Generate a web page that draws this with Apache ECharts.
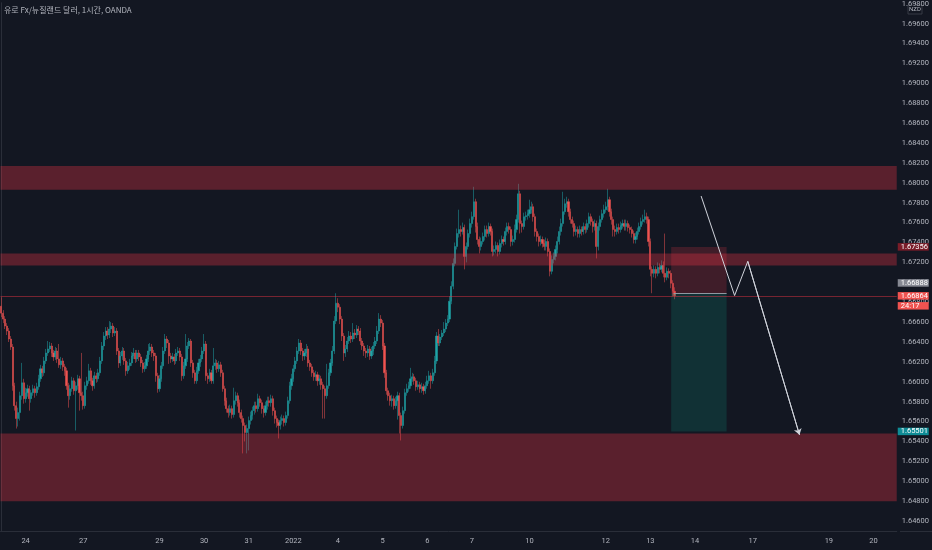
<!DOCTYPE html>
<html><head><meta charset="utf-8">
<script src="https://cdn.jsdelivr.net/npm/echarts@6/dist/echarts.min.js"></script>
<style>html,body{margin:0;padding:0;background:#131722;overflow:hidden}#c{width:932px;height:550px}</style>
</head><body><div id="c"></div><script>
const chartTitle = '유로 Fx/뉴질랜드 달러, 1시간, OANDA';
const currencyTag = 'NZD';
const firstOpen = 1.6676;
const closes = [
1.6669,1.6663,1.6656,1.6651,1.6643,1.6635,1.6596,1.6576,1.6563,1.6569,
1.6586,1.6599,1.6583,1.6589,1.6593,1.6583,1.6589,1.6593,1.6589,1.6595,
1.6603,1.6613,1.6609,1.6621,1.6629,1.6633,1.6636,1.6629,1.6625,1.6631,
1.6623,1.6617,1.6621,1.6615,1.6611,1.6596,1.6586,1.6593,1.6601,1.6591,
1.6596,1.6603,1.6589,1.6586,1.6576,1.6596,1.6601,1.6611,1.6601,1.6596,
1.6606,1.6603,1.6609,1.6621,1.6636,1.6646,1.6651,1.6647,1.6653,1.6656,
1.6649,1.6651,1.6631,1.6619,1.6626,1.6631,1.6621,1.6611,1.6616,1.6619,
1.6626,1.6629,1.6623,1.6629,1.6625,1.6619,1.6613,1.6616,1.6623,1.6631,
1.6635,1.6629,1.6626,1.6606,1.6593,1.6603,1.6616,1.6631,1.6643,1.6639,
1.6626,1.6623,1.6625,1.6621,1.6629,1.6631,1.6625,1.6606,1.6616,1.6623,
1.6636,1.6641,1.6619,1.6609,1.6601,1.6611,1.6619,1.6623,1.6631,1.6638,
1.6606,1.6603,1.6609,1.6601,1.6616,1.6619,1.6613,1.6617,1.6609,1.6593,
1.6581,1.6573,1.6569,1.6573,1.6567,1.6581,1.6586,1.6579,1.6569,1.6563,
1.6556,1.6549,1.6553,1.6561,1.6566,1.6571,1.6576,1.6573,1.6583,1.6579,
1.6573,1.6569,1.6576,1.6581,1.6579,1.6583,1.6571,1.6563,1.6559,1.6556,
1.6561,1.6563,1.6559,1.6566,1.6581,1.6596,1.6603,1.6613,1.6621,1.6631,
1.6639,1.6631,1.6626,1.6629,1.6633,1.6619,1.6615,1.6609,1.6605,1.6607,
1.6601,1.6603,1.6597,1.6593,1.6586,1.6596,1.6609,1.6619,1.6631,1.6661,
1.6679,1.6675,1.6663,1.6646,1.6629,1.6633,1.6641,1.6646,1.6643,1.6649,
1.6647,1.6653,1.6651,1.6641,1.6636,1.6631,1.6629,1.6633,1.6626,1.6631,
1.6636,1.6641,1.6651,1.6663,1.6659,1.6636,1.6609,1.6591,1.6586,1.6581,
1.6583,1.6576,1.6581,1.6586,1.6566,1.6556,1.6571,1.6589,1.6593,1.6596,
1.6603,1.6605,1.6601,1.6595,1.6597,1.6593,1.6595,1.6591,1.6596,1.6601,
1.6606,1.6601,1.6609,1.6621,1.6646,1.6639,1.6645,1.6649,1.6653,1.6659,
1.6663,1.6681,1.6696,1.6719,1.6736,1.6749,1.6753,1.6751,1.6755,1.6726,
1.6736,1.6749,1.6759,1.6766,1.6781,1.6756,1.6743,1.6736,1.6741,1.6746,
1.6753,1.6749,1.6756,1.6751,1.6731,1.6733,1.6737,1.6731,1.6739,1.6743,
1.6741,1.6751,1.6756,1.6753,1.6741,1.6743,1.6753,1.6763,1.6789,1.6759,
1.6756,1.6766,1.6767,1.6769,1.6773,1.6776,1.6766,1.6751,1.6746,1.6741,
1.6743,1.6739,1.6736,1.6741,1.6731,1.6711,1.6723,1.6726,1.6733,1.6741,
1.6751,1.6759,1.6771,1.6779,1.6781,1.6771,1.6763,1.6759,1.6751,1.6753,
1.6749,1.6753,1.6751,1.6756,1.6753,1.6759,1.6766,1.6761,1.6756,1.6759,
1.6736,1.6756,1.6763,1.6769,1.6773,1.6776,1.6783,1.6771,1.6763,1.6753,
1.6751,1.6755,1.6753,1.6757,1.6759,1.6756,1.6759,1.6755,1.6753,1.6749,
1.6743,1.6746,1.6751,1.6756,1.6761,1.6763,1.6766,1.6763,1.6741,1.6713,
1.6709,1.6713,1.6709,1.6715,1.6713,1.6717,1.6709,1.6705,1.6711,1.6709,
1.6699,1.6691,1.66864];
const highs = [
1.6685,1.6672,1.6666,1.6659,1.6654,1.6646,1.6638,1.6599,1.6580,1.6574,
1.6590,1.6619,1.6603,1.6594,1.6597,1.6596,1.6592,1.6597,1.6596,1.6599,
1.6607,1.6617,1.6616,1.6625,1.6633,1.6641,1.6640,1.6639,1.6632,1.6635,
1.6634,1.6638,1.6625,1.6624,1.6618,1.6614,1.6599,1.6597,1.6605,1.6604,
1.6600,1.6607,1.6606,1.6629,1.6590,1.6600,1.6605,1.6618,1.6614,1.6604,
1.6610,1.6609,1.6613,1.6625,1.6640,1.6650,1.6655,1.6655,1.6661,1.6660,
1.6659,1.6655,1.6654,1.6634,1.6630,1.6635,1.6634,1.6624,1.6620,1.6623,
1.6630,1.6634,1.6632,1.6632,1.6632,1.6628,1.6622,1.6620,1.6627,1.6638,
1.6639,1.6638,1.6632,1.6629,1.6609,1.6607,1.6620,1.6635,1.6648,1.6646,
1.6642,1.6629,1.6629,1.6628,1.6633,1.6635,1.6634,1.6628,1.6620,1.6648,
1.6640,1.6644,1.6643,1.6622,1.6612,1.6615,1.6623,1.6627,1.6635,1.6648,
1.6641,1.6609,1.6613,1.6612,1.6634,1.6623,1.6622,1.6621,1.6620,1.6612,
1.6596,1.6584,1.6576,1.6577,1.6576,1.6594,1.6590,1.6589,1.6582,1.6572,
1.6566,1.6559,1.6557,1.6565,1.6570,1.6575,1.6580,1.6580,1.6588,1.6586,
1.6582,1.6576,1.6580,1.6585,1.6585,1.6587,1.6586,1.6574,1.6566,1.6562,
1.6565,1.6567,1.6566,1.6570,1.6585,1.6600,1.6608,1.6617,1.6625,1.6635,
1.6643,1.6642,1.6634,1.6633,1.6638,1.6636,1.6622,1.6618,1.6612,1.6611,
1.6610,1.6607,1.6606,1.6600,1.6596,1.6618,1.6613,1.6623,1.6636,1.6666,
1.6689,1.6684,1.6678,1.6666,1.6649,1.6637,1.6645,1.6651,1.6650,1.6659,
1.6653,1.6657,1.6656,1.6654,1.6644,1.6639,1.6634,1.6637,1.6636,1.6635,
1.6640,1.6645,1.6656,1.6669,1.6667,1.6662,1.6639,1.6612,1.6594,1.6589,
1.6587,1.6586,1.6585,1.6590,1.6589,1.6569,1.6575,1.6593,1.6598,1.6600,
1.6614,1.6609,1.6608,1.6604,1.6601,1.6600,1.6599,1.6598,1.6600,1.6606,
1.6611,1.6609,1.6613,1.6626,1.6650,1.6653,1.6648,1.6652,1.6660,1.6663,
1.6667,1.6686,1.6701,1.6724,1.6740,1.6754,1.6773,1.6757,1.6760,1.6758,
1.6740,1.6753,1.6764,1.6771,1.6796,1.6784,1.6760,1.6746,1.6745,1.6750,
1.6757,1.6757,1.6760,1.6759,1.6754,1.6737,1.6741,1.6740,1.6743,1.6747,
1.6746,1.6755,1.6760,1.6760,1.6756,1.6747,1.6758,1.6768,1.6799,1.6792,
1.6762,1.6770,1.6771,1.6773,1.6783,1.6781,1.6779,1.6769,1.6754,1.6749,
1.6747,1.6746,1.6743,1.6745,1.6744,1.6734,1.6727,1.6730,1.6737,1.6746,
1.6756,1.6764,1.6791,1.6784,1.6786,1.6784,1.6774,1.6766,1.6762,1.6757,
1.6756,1.6757,1.6756,1.6760,1.6759,1.6763,1.6770,1.6769,1.6764,1.6763,
1.6762,1.6760,1.6767,1.6773,1.6778,1.6781,1.6794,1.6786,1.6774,1.6766,
1.6757,1.6759,1.6759,1.6761,1.6763,1.6763,1.6763,1.6762,1.6758,1.6756,
1.6752,1.6750,1.6755,1.6760,1.6765,1.6768,1.6773,1.6770,1.6766,1.6744,
1.6716,1.6717,1.6716,1.6720,1.6719,1.6722,1.6721,1.6749,1.6715,1.6714,
1.6712,1.6702,1.6695];
const lows = [
1.6665,1.6659,1.6653,1.6647,1.6640,1.6632,1.6591,1.6571,1.6553,1.6555,
1.6561,1.6582,1.6578,1.6579,1.6585,1.6571,1.6579,1.6586,1.6584,1.6586,
1.6592,1.6600,1.6605,1.6606,1.6618,1.6626,1.6630,1.6625,1.6621,1.6622,
1.6619,1.6614,1.6613,1.6611,1.6606,1.6592,1.6574,1.6582,1.6590,1.6587,
1.6551,1.6592,1.6571,1.6581,1.6572,1.6573,1.6592,1.6598,1.6597,1.6591,
1.6593,1.6599,1.6600,1.6606,1.6618,1.6632,1.6642,1.6643,1.6644,1.6649,
1.6645,1.6646,1.6627,1.6614,1.6616,1.6622,1.6617,1.6606,1.6608,1.6612,
1.6616,1.6623,1.6619,1.6620,1.6621,1.6615,1.6609,1.6610,1.6613,1.6620,
1.6627,1.6625,1.6621,1.6600,1.6589,1.6590,1.6600,1.6613,1.6628,1.6634,
1.6618,1.6619,1.6620,1.6617,1.6618,1.6626,1.6621,1.6601,1.6603,1.6613,
1.6620,1.6633,1.6615,1.6604,1.6598,1.6598,1.6608,1.6615,1.6620,1.6628,
1.6601,1.6598,1.6600,1.6598,1.6598,1.6612,1.6609,1.6610,1.6605,1.6590,
1.6576,1.6569,1.6564,1.6566,1.6563,1.6564,1.6577,1.6575,1.6564,1.6559,
1.6528,1.6540,1.6528,1.6531,1.6557,1.6562,1.6567,1.6569,1.6570,1.6575,
1.6568,1.6564,1.6566,1.6572,1.6575,1.6575,1.6566,1.6558,1.6554,1.6543,
1.6552,1.6557,1.6555,1.6556,1.6563,1.6578,1.6592,1.6600,1.6610,1.6618,
1.6628,1.6627,1.6621,1.6622,1.6625,1.6615,1.6611,1.6605,1.6601,1.6601,
1.6596,1.6597,1.6592,1.6563,1.6563,1.6583,1.6593,1.6606,1.6616,1.6628,
1.6658,1.6670,1.6658,1.6641,1.6621,1.6625,1.6630,1.6638,1.6639,1.6640,
1.6643,1.6644,1.6647,1.6637,1.6632,1.6626,1.6624,1.6625,1.6622,1.6623,
1.6627,1.6633,1.6638,1.6648,1.6655,1.6632,1.6604,1.6587,1.6581,1.6576,
1.6575,1.6572,1.6573,1.6562,1.6548,1.6541,1.6553,1.6568,1.6586,1.6590,
1.6593,1.6600,1.6597,1.6591,1.6592,1.6589,1.6589,1.6587,1.6588,1.6593,
1.6598,1.6593,1.6598,1.6606,1.6618,1.6636,1.6636,1.6642,1.6646,1.6650,
1.6656,1.6660,1.6678,1.6693,1.6716,1.6733,1.6745,1.6746,1.6748,1.6713,
1.6720,1.6733,1.6745,1.6755,1.6763,1.6750,1.6738,1.6729,1.6732,1.6738,
1.6742,1.6745,1.6746,1.6747,1.6726,1.6727,1.6729,1.6726,1.6728,1.6735,
1.6737,1.6738,1.6747,1.6749,1.6736,1.6737,1.6740,1.6750,1.6760,1.6749,
1.6750,1.6753,1.6762,1.6763,1.6765,1.6769,1.6761,1.6746,1.6741,1.6736,
1.6737,1.6735,1.6732,1.6732,1.6726,1.6706,1.6708,1.6719,1.6722,1.6729,
1.6738,1.6747,1.6756,1.6768,1.6775,1.6766,1.6759,1.6755,1.6746,1.6747,
1.6745,1.6745,1.6747,1.6748,1.6749,1.6750,1.6755,1.6757,1.6750,1.6752,
1.6724,1.6732,1.6752,1.6760,1.6765,1.6770,1.6772,1.6766,1.6758,1.6746,
1.6746,1.6748,1.6749,1.6750,1.6754,1.6752,1.6752,1.6751,1.6749,1.6745,
1.6739,1.6739,1.6743,1.6748,1.6753,1.6758,1.6760,1.6759,1.6736,1.6706,
1.6689,1.6705,1.6704,1.6706,1.6709,1.6710,1.6705,1.6700,1.6702,1.6704,
1.6694,1.6686,1.6683];
const lastPrice = 1.66864;
const countdown = '24:17';
const priceTicks = [1.646,1.648,1.650,1.652,1.654,1.656,1.658,1.660,1.662,1.664,1.666,1.668,1.670,1.672,1.674,1.676,1.678,1.680,1.682,1.684,1.686,1.688,1.690,1.692,1.694,1.696,1.698];
const shownDayLabels = ['24','27','29','30','31','2022','4','5','6','7','10','12','13','14','17','19','20'];
const zones = [[1.6793,1.6817],[1.6717,1.6729],[1.6480,1.6548]];
const positionTool = {entry:1.66888, stop:1.67356, target:1.65501, fromBar:360.2, entryFromBar:361.5, toBar:390};
const arrowPath = [[376.3,1.67867],[394.3,1.66867],[401.4,1.6721],[429.2,1.65467]];

// hourly bars in KST (UTC+9), weekend closure Sat 07:00 - Mon 07:00
const startKST = Date.UTC(2021, 11, 23, 11);
const totalBars = 482;
const times = [];
for (let t = startKST; times.length < totalBars; t += 3600000) {
  const d = new Date(t), dow = d.getUTCDay(), h = d.getUTCHours();
  const closed = (dow === 6 && h >= 7) || dow === 0 || (dow === 1 && h < 7);
  if (!closed) times.push(t);
}
const dayLabel = i => {
  if (i === 0) return '';
  const d = new Date(times[i]), p = new Date(times[i - 1]);
  if (d.getUTCDate() === p.getUTCDate()) return '';
  return (d.getUTCMonth() === 0 && d.getUTCDate() === 1) ? String(d.getUTCFullYear()) : String(d.getUTCDate());
};
const categories = times.map((t, i) => String(i));
const ohlc = closes.map((c, i) => [i === 0 ? firstOpen : closes[i - 1], c, lows[i], highs[i]]);

const FONT = 'Roboto, "Noto Sans CJK KR", sans-serif';
const TXT = '#b2b5be';
const UP = '#1ea5a8', DOWN = '#ef5350';
const HIDDEN = 'rgba(0,0,0,0)';
const tag = (bg) => ({backgroundColor: bg, color: '#ffffff', fontSize: 7.5, fontFamily: FONT, lineHeight: 10, width: 26, padding: [0, 2, 0, 3]});

const chart = echarts.init(document.getElementById('c'), null, {renderer: 'canvas'});
chart.setOption({
  backgroundColor: '#131722',
  animation: false,
  textStyle: {fontFamily: FONT},
  grid: {left: 0.5, right: 32, top: 0, bottom: 19, containLabel: false},
  xAxis: [{
    type: 'category', data: categories, boundaryGap: true,
    axisLine: {show: true, lineStyle: {color: '#2a2e39'}},
    axisTick: {show: false}, splitLine: {show: false},
    axisLabel: {
      color: TXT, fontSize: 7.5, fontFamily: FONT, margin: 6,
      interval: (i) => shownDayLabels.includes(dayLabel(i)),
      formatter: (v, i) => dayLabel(i)
    }
  }, {
    type: 'value', min: -0.5, max: totalBars - 0.5, show: false
  }],
  yAxis: [{
    type: 'value', position: 'right', min: 1.6450, max: 1.6981, scale: true,
    axisLine: {show: true, lineStyle: {color: '#2a2e39'}},
    axisTick: {show: false}, splitLine: {show: false},
    axisLabel: {
      customValues: priceTicks, color: TXT, fontSize: 7.5, fontFamily: FONT, margin: 5,
      formatter: v => v.toFixed(5)
    }
  }],
  graphic: [
    {type: 'text', left: 4, top: 6, style: {text: chartTitle, fill: TXT, font: '8px "Noto Sans CJK KR", sans-serif'}},
    {type: 'rect', shape: {x: 908, y: 5, width: 14, height: 9}, style: {fill: '#131722', stroke: '#363a45', lineWidth: 1}},
    {type: 'text', x: 915, y: 9.5, style: {text: currencyTag, fill: TXT, font: '6px Roboto', align: 'center', verticalAlign: 'middle'}},
    {type: 'line', shape: {x1: 900, y1: 531.5, x2: 932, y2: 531.5}, style: {stroke: '#2a2e39', lineWidth: 1}}
  ],
  series: [{
    type: 'candlestick', name: 'EURNZD', data: ohlc, xAxisIndex: 0, yAxisIndex: 0,
    barWidth: 1.6, z: 2,
    itemStyle: {color: UP, color0: DOWN, borderColor: UP, borderColor0: DOWN, borderWidth: 0.5}
  }, {
    type: 'line', name: 'zones', xAxisIndex: 1, yAxisIndex: 0, data: [], silent: true,
    markArea: {
      silent: true, z: 3,
      itemStyle: {color: 'rgba(242,54,69,0.32)'},
      data: zones.map(z => [{yAxis: z[0]}, {yAxis: z[1]}])
    }
  }, {
    type: 'line', name: 'position', xAxisIndex: 1, yAxisIndex: 0, data: [], silent: true,
    markArea: {
      silent: true, z: 3,
      data: [
        [{coord: [positionTool.fromBar, positionTool.entry], itemStyle: {color: 'rgba(242,54,69,0.2)'}}, {coord: [positionTool.toBar, positionTool.stop]}],
        [{coord: [positionTool.fromBar, positionTool.entry], itemStyle: {color: 'rgba(8,153,129,0.2)'}}, {coord: [positionTool.toBar, positionTool.target]}]
      ]
    },
    markLine: {
      silent: true, symbol: ['none', 'none'], z: 6, precision: 5,
      data: [
        {yAxis: lastPrice, lineStyle: {color: 'rgba(242,54,69,0.45)', width: 1, type: 'solid'},
          label: {show: true, position: 'end', distance: 1,
            formatter: '{s| }\n{a|' + lastPrice.toFixed(5) + '}\n{a|' + countdown + '}',
            rich: {s: {lineHeight: 10, fontSize: 7}, a: tag('#ef5350')}}},
        [{coord: [positionTool.entryFromBar, positionTool.entry], lineStyle: {color: '#8f98a0', width: 1, type: 'solid'}, label: {show: false}},
         {coord: [positionTool.toBar, positionTool.entry]}],
        {yAxis: positionTool.stop, lineStyle: {color: HIDDEN},
          label: {show: true, position: 'end', distance: 1, formatter: '{a|' + positionTool.stop.toFixed(5) + '}',
            rich: {a: Object.assign(tag('#7a1c28'), {lineHeight: 11})}}},
        {yAxis: positionTool.entry, lineStyle: {color: HIDDEN},
          label: {show: true, position: 'end', distance: 1, formatter: '{a|' + positionTool.entry.toFixed(5) + '}\n{s| }',
            rich: {a: tag('#868993'), s: {lineHeight: 21, fontSize: 7}}}},
        {yAxis: positionTool.target, lineStyle: {color: HIDDEN},
          label: {show: true, position: 'end', distance: 1, formatter: '{a|' + positionTool.target.toFixed(5) + '}',
            rich: {a: Object.assign(tag('#0f8c96'), {lineHeight: 11})}}}
      ]
    }
  }, {
    type: 'line', name: 'arrow', xAxisIndex: 1, yAxisIndex: 0, data: arrowPath, z: 7,
    showSymbol: false, symbol: 'none', silent: true,
    lineStyle: {color: '#d1d4dc', width: 1},
    markLine: {
      silent: true, z: 7, symbol: ['none', 'arrow'], symbolSize: 6, precision: 5,
      lineStyle: {color: '#d1d4dc', width: 1, type: 'solid'}, label: {show: false},
      data: [[{coord: arrowPath[2]}, {coord: arrowPath[3]}]]
    }
  }]
});
</script></body></html>
